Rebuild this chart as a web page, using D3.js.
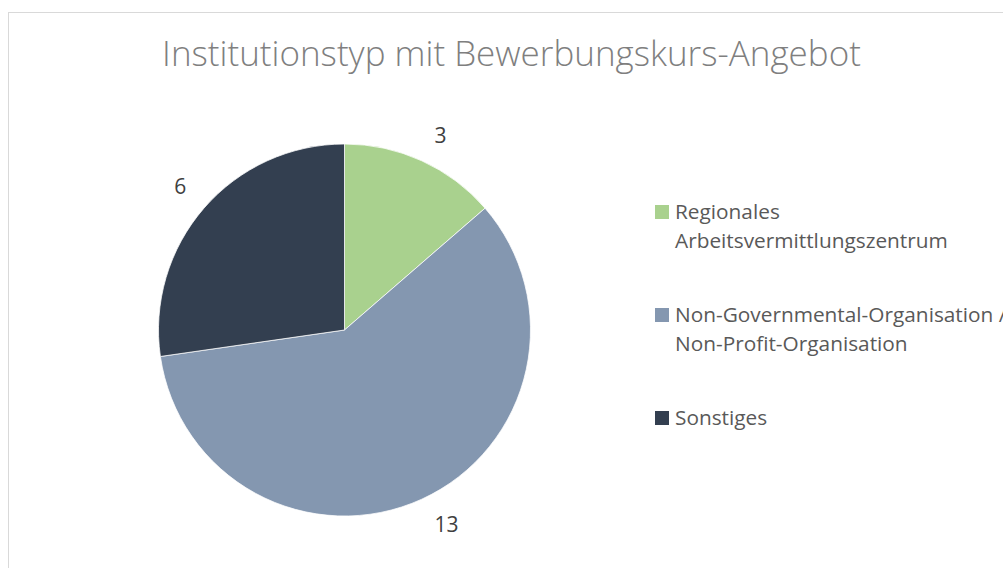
<!DOCTYPE html>
<html><head><meta charset="utf-8">
<script src="https://cdn.jsdelivr.net/npm/d3@7"></script>
<style>html,body{margin:0;padding:0;background:#fff;overflow:hidden}</style>
</head><body>
<svg id="chart" width="1003" height="568"></svg>
<script>
const title = "Institutionstyp mit Bewerbungskurs-Angebot";
const categories = ["Regionales Arbeitsvermittlungszentrum", "Non-Governmental-Organisation / Non-Profit-Organisation", "Sonstiges"];
const legendLines = [["Regionales", "Arbeitsvermittlungszentrum"], ["Non-Governmental-Organisation /", "Non-Profit-Organisation"], ["Sonstiges"]];
const values = [3, 13, 6];
const colors = ["#A9D18E", "#8497B0", "#333F50"];

const FONT = "'Open Sans', 'Liberation Sans', sans-serif";
const svg = d3.select("#chart");

// chart border
svg.append("rect").attr("x", 8.5).attr("y", 12.5).attr("width", 1003).attr("height", 600)
  .attr("fill", "#fff").attr("stroke", "#d9d9d9").attr("stroke-width", 1);

function fit(sel, target) {
  const w = sel.node().getComputedTextLength();
  const fs = parseFloat(sel.attr("font-size"));
  sel.attr("font-size", fs * target / w);
}

// title
const t = svg.append("text").text(title).attr("x", 511.5).attr("y", 66)
  .attr("text-anchor", "middle").attr("font-family", FONT).attr("font-weight", 300)
  .attr("font-size", 30).attr("fill", "#7f7f7f");
fit(t, 699);

// pie
const cx = 344.5, cy = 330, R = 186;
const pie = d3.pie().sort(null).value(d => d)(values);
const arc = d3.arc().innerRadius(0).outerRadius(R);
const g = svg.append("g").attr("transform", `translate(${cx},${cy})`);
g.selectAll("path").data(pie).join("path")
  .attr("d", arc).attr("fill", (d, i) => colors[i]).attr("stroke", "#fff").attr("stroke-width", 0.75);

// data labels (outside end)
const labelFs = 21;
const lg = g.selectAll("text.lbl").data(pie).join("text").attr("class", "lbl")
  .text(d => d.data).attr("font-family", FONT).attr("font-size", labelFs).attr("fill", "#404040")
  .attr("text-anchor", "middle");
lg.each(function(d) {
  const sel = d3.select(this);
  const a = (d.startAngle + d.endAngle) / 2;
  const dx = Math.sin(a), dy = -Math.cos(a);
  const r0 = R + 14;
  const w = this.getComputedTextLength() + 14, h = 26;
  const x = dx * r0 + Math.sign(dx) * w / 2;
  const y = dy * r0 + Math.sign(dy) * h / 2;
  sel.attr("x", x).attr("y", y).attr("dy", "0.36em");
});

// legend
const legY = d3.scalePoint().domain(categories).range([205, 411]);
const lgd = svg.append("g");
const items = lgd.selectAll("g").data(categories).join("g")
  .attr("transform", d => `translate(655,${legY(d)})`);
items.append("rect").attr("width", 14).attr("height", 14).attr("fill", (d, i) => colors[i]);
const legFs = 19;
items.each(function(d, i) {
  const txt = d3.select(this).append("text").attr("font-family", FONT).attr("font-size", legFs)
    .attr("fill", "#595959");
  legendLines[i].forEach((ln, j) => {
    txt.append("tspan").attr("x", 20).attr("y", 14 + j * 29).text(ln);
  });
});
// fit legend font to reference width of "Arbeitsvermittlungszentrum"
const probe = svg.append("text").attr("font-family", FONT).attr("font-size", legFs).text(legendLines[0][1]);
const pw = probe.node().getComputedTextLength();
probe.remove();
items.selectAll("text").attr("font-size", legFs * 273 / pw);
</script>
</body></html>
